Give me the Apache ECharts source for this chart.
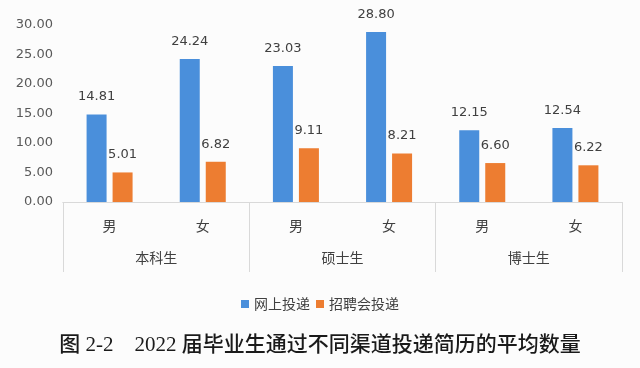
<!DOCTYPE html>
<html><head><meta charset="utf-8">
<script src="https://cdn.jsdelivr.net/npm/echarts@6/dist/echarts.min.js"></script>
<style>html,body{margin:0;padding:0;background:#fcfcfc}#c{width:640px;height:368px}</style>
</head><body><div id="c"></div>
<script>
const subCategories = ['男','女','男','女','男','女'];
const groups = ['本科生','硕士生','博士生'];
const seriesNames = ['网上投递','招聘会投递'];
const onlineValues = [14.81, 24.24, 23.03, 28.80, 12.15, 12.54];
const fairValues = [5.01, 6.82, 9.11, 8.21, 6.60, 6.22];
const yTicks = [0, 5, 10, 15, 20, 25, 30];
const titleText = '图 2-2    2022 届毕业生通过不同渠道投递简历的平均数量';

const chart = echarts.init(document.getElementById('c'), null, {renderer:'canvas'});
const labelStyle = {show:true, position:'top', distance:11, fontSize:13, color:'#404040',
  fontFamily:'DejaVu Sans', formatter: p => p.value.toFixed(2)};
chart.setOption({
  backgroundColor:'#fcfcfc',
  animation:false,
  title:{text:titleText, left:'center', top:330,
    textStyle:{fontSize:21, fontWeight:500, color:'#1a1a1a', fontFamily:'Liberation Serif, "Noto Sans CJK SC"'}},
  legend:{data:seriesNames, top:292, left:'center', icon:'rect', itemWidth:8, itemHeight:8, itemGap:6,
    textStyle:{fontSize:14, color:'#404040', fontFamily:'"Noto Sans CJK SC"'}},
  grid:{left:63, right:18, top:25, bottom:166},
  xAxis:[
    {type:'category', data:subCategories, position:'bottom',
     axisLine:{show:true, lineStyle:{color:'#d9d9d9'}}, axisTick:{show:false},
     axisLabel:{margin:17, fontSize:14, color:'#404040', fontFamily:'"Noto Sans CJK SC"'}},
    {type:'category', data:groups, position:'bottom',
     axisLine:{show:true, lineStyle:{color:'#d9d9d9'}},
     axisTick:{show:true, length:70, lineStyle:{color:'#d9d9d9'}},
     axisLabel:{margin:49, fontSize:14, color:'#404040', fontFamily:'"Noto Sans CJK SC"'}}
  ],
  yAxis:{type:'value', min:yTicks[0], max:yTicks[yTicks.length-1], interval:5,
    axisLine:{show:false}, axisTick:{show:false}, splitLine:{show:false},
    axisLabel:{fontSize:13, color:'#595959', margin:10, fontFamily:'DejaVu Sans', formatter: v => v.toFixed(2)}},
  series:[
    {name:seriesNames[0], type:'bar', xAxisIndex:0, data:onlineValues, barWidth:20, barGap:'30%',
     itemStyle:{color:'#4a8fdb'}, label:labelStyle},
    {name:seriesNames[1], type:'bar', xAxisIndex:0, data:fairValues, barWidth:20, barGap:'30%',
     itemStyle:{color:'#ed7d31'}, label:labelStyle}
  ]
});
</script></body></html>
